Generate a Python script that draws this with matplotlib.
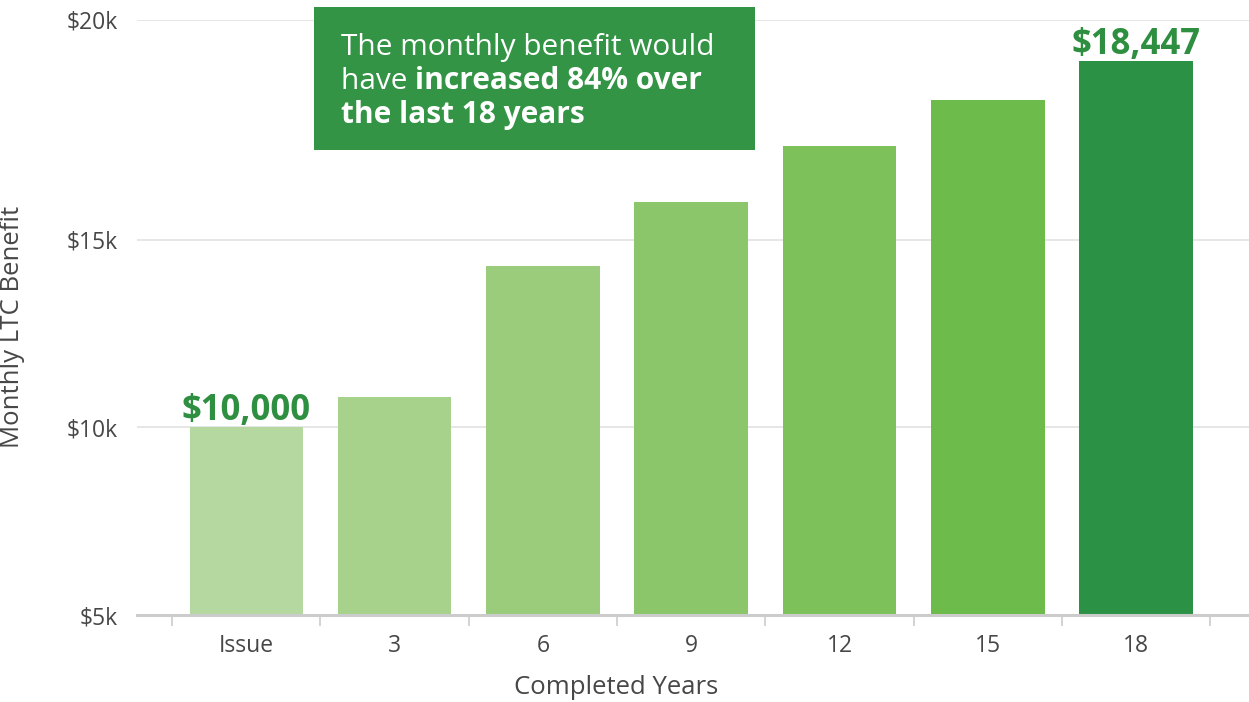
import numpy as np
import matplotlib
matplotlib.use("Agg")
import matplotlib.pyplot as plt
from matplotlib.patches import Rectangle

# ---------------- data ----------------
categories = ["Issue", "3", "6", "9", "12", "15", "18"]
benefit = [10000, 10800, 14300, 15730, 16810, 17700, 18447]
labelled = {0: "$10,000", 6: "$18,447"}
y_ticks = [5000, 10000, 15000, 20000]
y_tick_labels = ["$5k", "$10k", "$15k", "$20k"]
note_line1 = "The monthly benefit would"
note_line2_a = "have "
note_line2_b = "increased 84% over"
note_line3 = "the last 18 years"

# ---------------- style ----------------
bar_colors = ["#b5d8a0", "#a6d28b", "#9acc7b", "#8bc66b", "#7cc15a", "#6dbb4b", "#2b9145"]
label_green = "#2e8f40"
box_green = "#329444"
text_gray = "#474747"
grid_gray = "#e2e2e2"
axis_gray = "#cccccc"
FONT = "Open Sans"

# non-uniform value axis as drawn in the reference (piecewise linear)
scale_v = np.array([5000, 10000, 15000, 18447, 20000], dtype=float)
scale_p = np.array([0, 188, 375, 554, 595], dtype=float)


def _pw(x, xs, ys):
    x = np.asarray(x, dtype=float)
    out = np.interp(x, xs, ys)
    lo = x < xs[0]
    hi = x > xs[-1]
    out = np.where(lo, ys[0] + (x - xs[0]) * (ys[1] - ys[0]) / (xs[1] - xs[0]), out)
    out = np.where(hi, ys[-1] + (x - xs[-1]) * (ys[-1] - ys[-2]) / (xs[-1] - xs[-2]), out)
    return out


def fwd(v):
    return _pw(v, scale_v, scale_p)


def inv(p):
    return _pw(p, scale_p, scale_v)


W, H = 1249, 702
fig = plt.figure(figsize=(W / 100, H / 100), dpi=100)
ax_left, ax_right, ax_top, ax_bottom = 137, 1249, 20, 615
ax_w, ax_h = ax_right - ax_left, ax_bottom - ax_top
ax = fig.add_axes([ax_left / W, 1 - ax_bottom / H, ax_w / W, ax_h / H])
ax.set_yscale("function", functions=(fwd, inv))

x = np.arange(len(categories))
ax.bar(x, benefit, width=0.765, bottom=0, color=bar_colors, zorder=3)
ax.set_ylim(5000, 20000)
ax.set_xlim(-0.737, 6.761)

# grid & axes
ax.set_yticks(y_ticks)
ax.set_yticklabels(y_tick_labels, fontsize=16.5, color=text_gray, family=FONT)
ax.yaxis.grid(True, color=grid_gray, linewidth=1.2, zorder=0)
ax.tick_params(axis="y", length=0, pad=14)
for s in ["top", "right", "left"]:
    ax.spines[s].set_visible(False)
ax.spines["bottom"].set_color(axis_gray)
ax.spines["bottom"].set_linewidth(2.2)
ax.spines["bottom"].set_zorder(4)

ax.set_xticks(x)
ax.set_xticklabels(categories, fontsize=16.5, color=text_gray, family=FONT)
ax.tick_params(axis="x", which="major", length=0, pad=14)
ax.set_xticks(np.arange(-0.5, len(categories)), minor=True)
ax.tick_params(axis="x", which="minor", length=8, width=1.2, color=axis_gray)

ax.set_xlabel("Completed Years", fontsize=18.5, color=text_gray, family=FONT)
ax.set_ylabel("Monthly LTC Benefit", fontsize=18.5, color=text_gray, family=FONT)
ax.xaxis.set_label_coords((616 - ax_left) / ax_w, (ax_bottom - 688) / ax_h)
ax.yaxis.set_label_coords((13 - ax_left) / ax_w, (ax_bottom - 327) / ax_h)
ax.xaxis.label.set(va="center", ha="center")
ax.yaxis.label.set(va="center", ha="center")

# value labels
for i, txt in labelled.items():
    ax.annotate(txt, (x[i], benefit[i]), xytext=(0, 5), textcoords="offset points",
                ha="center", va="baseline", fontsize=25, fontweight="bold",
                color=label_green, family=FONT, clip_on=False, zorder=5)

# note box (figure pixel layout)
bx0, by0, bx1, by1 = 314, 7, 755, 150
fig.patches.append(Rectangle((bx0 / W, 1 - by1 / H), (bx1 - bx0) / W, (by1 - by0) / H,
                             transform=fig.transFigure, facecolor=box_green,
                             edgecolor="none", zorder=10))
tx = 341 / W
fs = 21.5
lines_y = [55, 89, 123]
fig.text(tx, 1 - lines_y[0] / H, note_line1, color="white", fontsize=fs, family=FONT,
         va="baseline", ha="left", zorder=11)
t2 = fig.text(tx, 1 - lines_y[1] / H, note_line2_a, color="white", fontsize=fs, family=FONT,
              va="baseline", ha="left", zorder=11)
fig.canvas.draw()
bb = t2.get_window_extent()
fig.text(bb.x1 / W, 1 - lines_y[1] / H, note_line2_b, color="white", fontsize=fs, family=FONT,
         fontweight="bold", va="baseline", ha="left", zorder=11)
fig.text(tx, 1 - lines_y[2] / H, note_line3, color="white", fontsize=fs, family=FONT,
         fontweight="bold", va="baseline", ha="left", zorder=11)

fig.savefig("out.png", dpi=100, facecolor="white")
